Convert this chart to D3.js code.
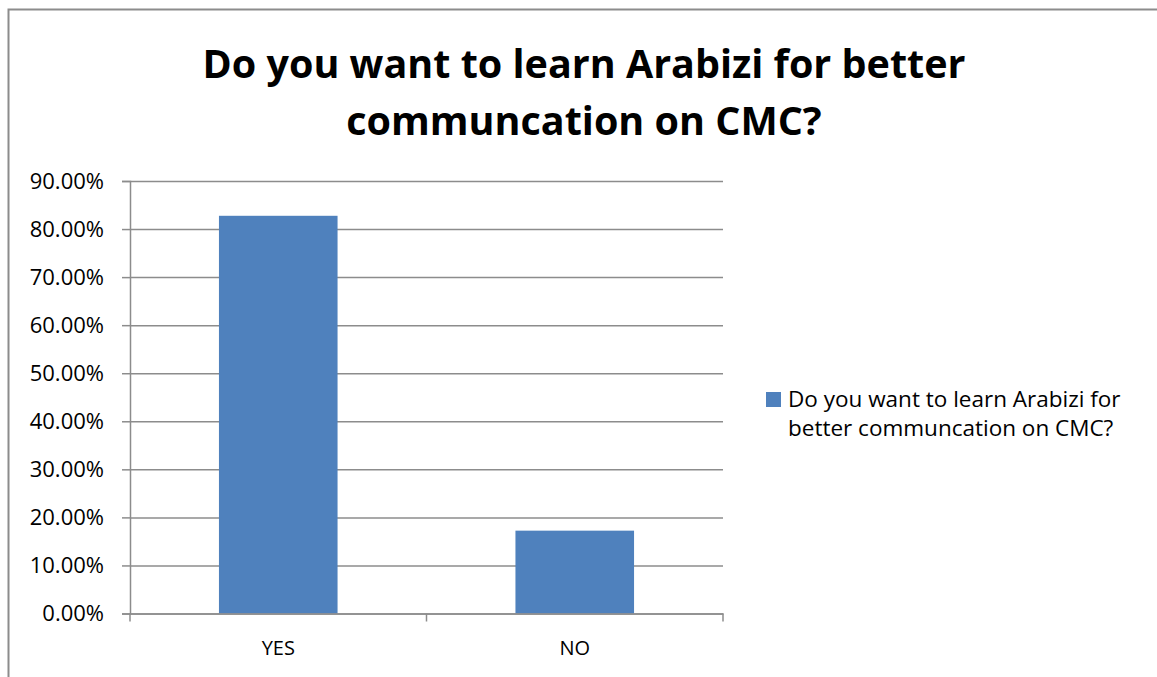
<!DOCTYPE html>
<html>
<head>
<meta charset="utf-8">
<script src="https://cdn.jsdelivr.net/npm/d3@7"></script>
<style>
  body { margin: 0; background: #fff; }
  text { font-family: "Open Sans", sans-serif; }
</style>
</head>
<body>
<div id="my_dataviz"></div>
<script>

var categories = ["YES", "NO"]
var values = [0.8276, 0.1724]
var yTicks = [0, 0.1, 0.2, 0.3, 0.4, 0.5, 0.6, 0.7, 0.8, 0.9]
var titleLines = ["Do you want to learn Arabizi for better", "communcation on CMC?"]
var legendLines = ["Do you want to learn Arabizi for", "better communcation on CMC?"]

var width = 1157,
    height = 677

var plotLeft = 130, plotRight = 723, plotTop = 181, plotBottom = 613.5

var svg = d3.select("#my_dataviz")
  .append("svg")
    .attr("width", width)
    .attr("height", height)

// chart frame (runs off the right and bottom edges)
svg.append("path")
  .attr("d", "M8.5,677 L8.5,9.5 L1157,9.5")
  .attr("fill", "none")
  .attr("stroke", "#8c8c8c")
  .attr("stroke-width", 2)

// title
svg.append("text")
  .attr("text-anchor", "middle")
  .style("font-weight", "bold")
  .style("font-size", "39.5px")
  .selectAll("tspan")
  .data(titleLines)
  .enter()
  .append("tspan")
    .attr("x", 584)
    .attr("y", function(d, i) { return 78 + i * 57 })
    .text(function(d) { return d })

var x = d3.scaleBand()
  .domain(categories)
  .range([plotLeft, plotRight])
  .paddingInner(0.6)
  .paddingOuter(0.3)

var y = d3.scaleLinear()
  .domain([0, 0.9])
  .range([plotBottom, plotTop])

// gridlines
svg.append("g")
  .attr("transform", "translate(" + plotLeft + ",0)")
  .call(d3.axisLeft(y).tickValues(yTicks).tickSize(-(plotRight - plotLeft)).tickFormat(""))
  .call(function(g) { g.select(".domain").remove() })
  .selectAll("line")
    .attr("stroke", "#8c8c8c")
    .attr("stroke-width", 1.5)

// bars
svg.selectAll("bars")
  .data(categories)
  .enter()
  .append("rect")
    .attr("x", function(d) { return x(d) })
    .attr("width", x.bandwidth())
    .attr("y", function(d, i) { return y(values[i]) })
    .attr("height", function(d, i) { return plotBottom - y(values[i]) })
    .attr("fill", "#4f81bd")

// y axis
var yAxis = svg.append("g")
  .attr("transform", "translate(" + plotLeft + ",0)")
  .call(d3.axisLeft(y).tickValues(yTicks).tickSize(8).tickPadding(18).tickFormat(d3.format(".2%")))
yAxis.selectAll("line, .domain").attr("stroke", "#8c8c8c").attr("stroke-width", 1.5)
yAxis.selectAll("text")
  .style("font-size", "22px")
  .style("font-family", "'Open Sans', sans-serif")
  .attr("fill", "#000")

// x axis
var step = x.step()
var xAxis = svg.append("g")
  .attr("transform", "translate(0," + plotBottom + ")")
  .call(d3.axisBottom(x).tickSize(0).tickPadding(27))
xAxis.select(".domain").attr("stroke", "#8c8c8c").attr("stroke-width", 1.5)
xAxis.selectAll("text")
  .style("font-size", "20px")
  .style("font-family", "'Open Sans', sans-serif")
  .attr("fill", "#000")
xAxis.selectAll("sep")
  .data(d3.range(categories.length + 1))
  .enter()
  .append("line")
    .attr("x1", function(d) { return plotLeft + d * step })
    .attr("x2", function(d) { return plotLeft + d * step })
    .attr("y1", 0)
    .attr("y2", 8)
    .attr("stroke", "#8c8c8c")
    .attr("stroke-width", 1.5)

// legend
svg.append("rect")
  .attr("x", 766)
  .attr("y", 392)
  .attr("width", 15)
  .attr("height", 15)
  .attr("fill", "#4f81bd")

svg.append("text")
  .style("font-size", "22.5px")
  .selectAll("tspan")
  .data(legendLines)
  .enter()
  .append("tspan")
    .attr("x", 788)
    .attr("y", function(d, i) { return 407 + i * 28.5 })
    .text(function(d) { return d })

</script>
</body>
</html>
